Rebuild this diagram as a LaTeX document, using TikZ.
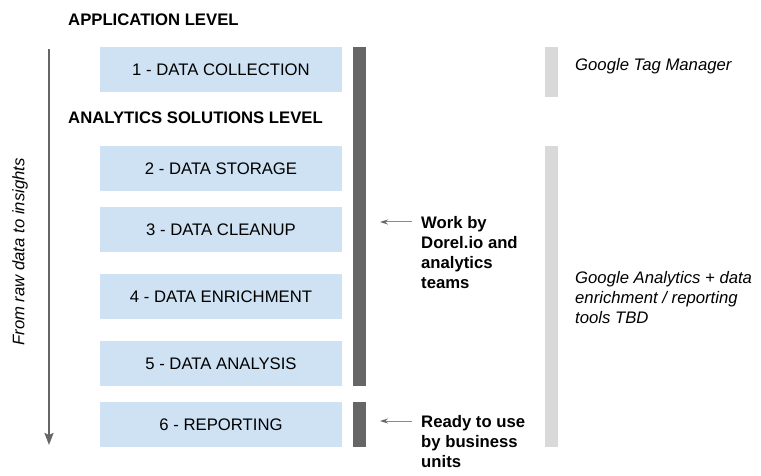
\documentclass[tikz,border=0pt]{standalone}
\usepackage{fontspec}
\setmainfont{Liberation Sans}
\usetikzlibrary{arrows.meta}

\definecolor{stagefill}{HTML}{CFE2F3}
\definecolor{bardark}{HTML}{666666}
\definecolor{barlight}{HTML}{D9D9D9}
\definecolor{pointer}{HTML}{8A8A8A}

\tikzset{
  stage/.style={fill=stagefill,minimum width=242pt,minimum height=45pt,inner sep=0pt,
    font=\fontsize{16.7}{20}\selectfont},
  level/.style={anchor=base west,inner sep=0pt,font=\fontsize{16.7}{20}\selectfont\bfseries},
  note/.style={anchor=base west,inner sep=0pt,align=left,font=\fontsize{16.7}{20}\selectfont\bfseries},
  tool/.style={anchor=base west,inner sep=0pt,align=left,font=\fontsize{16.7}{20}\selectfont\itshape},
}

\begin{document}
\begin{tikzpicture}[x=1pt,y=-1pt]
  \useasboundingbox (0,0) rectangle (761,476);

  \node[level] (applevel) at (68,26) {APPLICATION LEVEL};
  \node[level] (anlevel) at (68,124) {ANALYTICS SOLUTIONS LEVEL};

  \foreach \y/\n/\t in {69.5/1/DATA COLLECTION,168.5/2/DATA STORAGE,229.5/3/DATA CLEANUP,
    296.5/4/DATA ENRICHMENT,363.5/5/DATA ANALYSIS,424.5/6/REPORTING}
    \node[stage] (s\n) at (221,\y) {\n\ - \t};

  % bars
  \fill[bardark] (353,47) rectangle (366,386);
  \fill[bardark] (353,402) rectangle (366,447);
  \fill[barlight] (545,47) rectangle (558,97);
  \fill[barlight] (545,146) rectangle (558,447);

  \coordinate (flowtop) at (49,49);
  \coordinate (flowend) at (49,445);
  \path[-{Stealth[length=12pt,width=9pt,inset=2pt]},color=bardark,line width=2pt]
    (flowtop) edge (flowend);
  \node[rotate=90,font=\fontsize{16.7}{20}\selectfont\itshape] (flow) at (20,252) {From raw data to insights};

  % multi-line nodes sit on their last line
  \node[note] (work) at (421,288) {Work by\\Dorel.io and\\analytics\\teams};
  \node[note] (ready) at (421,467) {Ready to use\\by business\\units};
  \coordinate (worktip) at (380,222);
  \coordinate (readytip) at (380,421);
  \path[-{Stealth[length=8pt,width=5pt,color=bardark]},color=pointer,line width=1pt,shorten <=9pt]
    (work.west |- worktip) edge (worktip)
    (ready.west |- readytip) edge (readytip);

  \node[tool] (gtm) at (575,71) {Google Tag Manager};
  \node[tool] (ga) at (575,323.5) {Google Analytics + data\\enrichment / reporting\\tools TBD};
\end{tikzpicture}
\end{document}
